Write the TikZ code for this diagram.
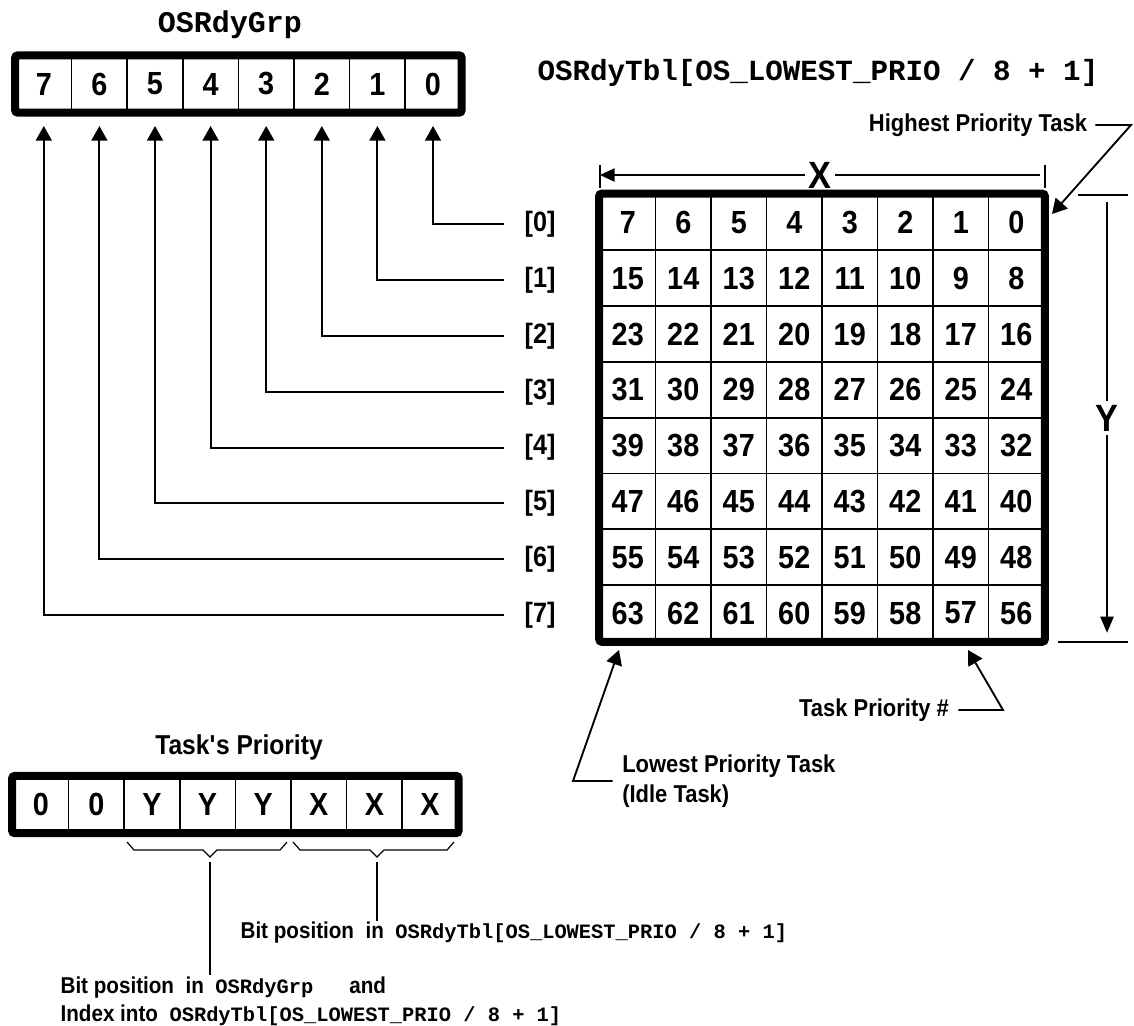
\documentclass[tikz,border=0pt]{standalone}
\usepackage{fontspec}
\setmainfont{Liberation Sans}[FakeStretch=0.9]
\setmonofont{Liberation Mono}
\usetikzlibrary{arrows.meta, positioning, calc}

\newcommand{\regfont}{\fontsize{24}{28}\selectfont\bfseries}
\newcommand{\notefont}{\fontsize{18.3}{22.5}\selectfont\bfseries}
\newcommand{\footfont}{\fontsize{17.2}{21}\selectfont\bfseries}
\newcommand{\codefont}{\fontsize{15.3}{18}\selectfont\ttfamily\bfseries}

\tikzset{
  bitcell/.style={draw, line width=1.3pt, minimum width=41.7pt,
                  minimum height=41.7pt, inner sep=0pt, font=\regfont},
  regframe/.style={line width=6pt, rounded corners=2pt},
  title/.style={font=\fontsize{22.5}{26}\selectfont\ttfamily\bfseries, inner sep=0pt},
  rowlbl/.style={font=\fontsize{21}{24}\selectfont\bfseries, inner sep=0pt},
  dimlbl/.style={font=\fontsize{28.5}{32}\selectfont\bfseries, inner sep=2.5pt},
  note/.style={font=\notefont, inner sep=0pt, align=left},
  conn/.style={line width=1.4pt, -{Triangle[width=12pt,length=11pt]}},
  lead/.style={line width=1.1pt},
  dimline/.style={line width=1.1pt},
  brace/.style={line width=0.9pt},
}

\begin{document}
\begin{tikzpicture}[x=0.75pt, y=-0.75pt]
  \useasboundingbox (0,0) rectangle (1134,1025);

  % ── OSRdyGrp register ───────────────────────────────────────────────────
  \node[title] (grptitle) at (230,25) {OSRdyGrp};
  \foreach \b in {0,...,7}
    \node[bitcell] (grp\b) at ({43.8+55.6*(7-\b)},84) {\b};
  \draw[regframe] (grp7.north west) rectangle (grp0.south east);

  % ── OSRdyTbl[] ───────────────────────────────────────────────────────────
  \node[title, font=\fontsize{21.9}{25}\selectfont\ttfamily\bfseries]
    (tbltitle) at (818,73) {OSRdyTbl[OS\_LOWEST\_PRIO / 8 + 1]};
  \foreach \r in {0,...,7}
    \foreach \c in {0,...,7} {
      \pgfmathtruncatemacro\n{8*\r+7-\c}
      \node[bitcell, minimum width=41.6pt, minimum height=41.85pt]
        (tbl\n) at ({627.75+55.5*\c},{222.4+55.8*\r}) {\n};
    }
  \draw[regframe] (tbl7.north west) rectangle (tbl56.south east);

  % ── Row index labels ─────────────────────────────────────────────────────
  \foreach \r in {0,...,7}
    \node[rowlbl] (idx\r) at (540,{224.4+55.8*\r}) {[\r]};

  % ── Index -> bit of OSRdyGrp ─────────────────────────────────────────────
  \foreach \r in {0,...,7}
    \draw[conn, shorten <=15pt, shorten >=10pt] (idx\r.west) -| (grp\r.south);

  % ── X / Y dimensions ─────────────────────────────────────────────────────
  \node[dimlbl] (xlbl) at (820,175) {X};
  \coordinate (xleft)  at (600,175);
  \coordinate (xright) at (1045,175);
  \draw[dimline] ($(xleft)+(0,-10)$)  -- ($(xleft)+(0,13)$);
  \draw[dimline] ($(xright)+(0,-10)$) -- ($(xright)+(0,13)$);
  \draw[dimline, -{Triangle[width=10pt,length=11pt]}] (xlbl.west) -- (xleft);
  \draw[dimline] (xlbl.east) -- ($(xright)+(-5,0)$);

  \node[dimlbl] (ylbl) at (1107,418) {Y};
  \coordinate (ytop) at (1107,195);
  \coordinate (ybot) at (1107,642);
  \draw[dimline] ($(ytop)+(-29,0)$) -- ($(ytop)+(21,0)$);
  \draw[dimline] ($(ybot)+(-49,0)$) -- ($(ybot)+(21,0)$);
  \draw[dimline, shorten >=5pt] (ylbl.north) -- (ytop);
  \draw[dimline, shorten >=7pt, -{Triangle[width=10pt,length=12pt]}] (ylbl.south) -- (ybot);

  % ── Annotations on the table ─────────────────────────────────────────────
  \node[note] (hightxt) at (978,125) {Highest Priority Task};
  \coordinate (highbend) at (1131,125);
  \coordinate (hightip)  at (1052,214);
  \draw[conn, shorten <=6pt] (hightxt.east) -- (highbend) -- (hightip);

  \node[note] (numtxt) at (874,710) {Task Priority \#};
  \coordinate (numbend) at (1003,710);
  \coordinate (numtip)  at (968,650);
  \draw[conn, shorten <=7pt] (numtxt.east) -- (numbend) -- (numtip);

  \node[note, anchor=west] (lowtxt) at (622,781) {Lowest Priority Task\\(Idle Task)};
  \coordinate (lowbend) at (573,779);
  \coordinate (lowtip)  at (619,650);
  \draw[conn, shorten <=7pt] (lowtxt.west) -- (lowtxt.west -| lowbend) -- (lowtip);

  % ── Task's Priority register ─────────────────────────────────────────────
  \node[font=\fontsize{20.5}{24}\selectfont\bfseries, inner sep=0pt]
    (priotitle) at (239,747) {Task\textquotesingle s Priority};
  \foreach \b/\t in {7/0,6/0,5/Y,4/Y,3/Y,2/X,1/X,0/X}
    \node[bitcell] (prio\b) at ({40.8+55.6*(7-\b)},804.5) {\t};
  \draw[regframe] (prio7.north west) rectangle (prio0.south east);

  % braces under the Y and X fields
  \coordinate (ybrace) at (210,857);
  \coordinate (xbrace) at (377,857);
  \draw[brace] (127,842) -- (134,850) -- (203,850) -- (ybrace)
               -- (217,850) -- (280,850) -- (287,842);
  \draw[brace] (293,842) -- (300,850) -- (370,850) -- (xbrace)
               -- (384,850) -- (447,850) -- (454,842);

  % ── Notes ────────────────────────────────────────────────────────────────
  \node[note, anchor=west, font=\footfont, inner sep=1pt] (tblnote) at (239,933)
    {Bit position\ \ in\ \ {\codefont OSRdyTbl[OS\_LOWEST\_PRIO / 8 + 1]}};
  \node[note, anchor=west, font=\footfont, inner sep=1pt] (grpnote) at (59,1001)
    {Bit position\ \ in\ \ {\codefont OSRdyGrp}\hspace{27pt}and\\
     Index into\ \ {\codefont OSRdyTbl[OS\_LOWEST\_PRIO / 8 + 1]}};

  \draw[lead] ($(ybrace)+(0,5)$) -- (ybrace |- grpnote.north);
  \draw[lead] ($(xbrace)+(0,5)$) -- (xbrace |- tblnote.north);

\end{tikzpicture}
\end{document}
